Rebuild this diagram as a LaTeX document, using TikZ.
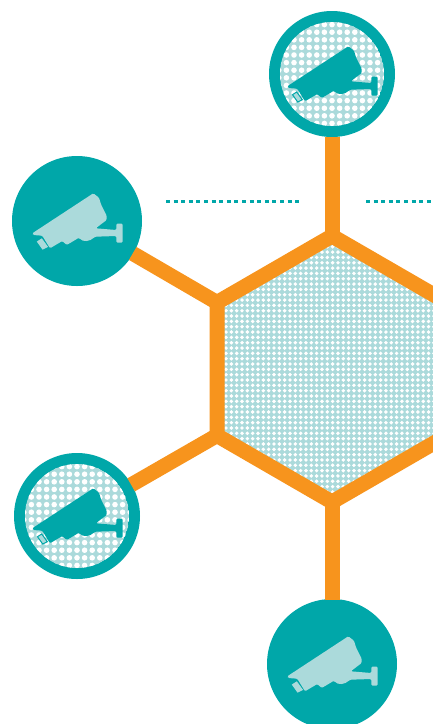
\documentclass[tikz,border=0pt]{standalone}
\usepackage{tikz}
\usetikzlibrary{positioning,calc}
\definecolor{tealc}{HTML}{00A7A9}
\definecolor{palec}{HTML}{ABDADB}
\definecolor{orangec}{HTML}{F7941D}
\tikzset{
    pics/camera/.style n args={2}{
      code={
        \fill[#1, rounded corners=1.2pt] (-44.7,12.3) -- (16.3,-27.7) -- (22,-23.3) -- (24,-16.7)
          -- (29.7,-5.3) -- (29.7,-1) -- (18.7,7.3) -- (39.3,9) -- (39.3,2.7) -- (45.7,2.7)
          -- (45.7,21.7) -- (39.3,21.7) -- (39.3,15) -- (18,15.7)
          .. controls (13,20.5) and (6,21.5) .. (2,16.7)
          -- (-10.3,24) -- (-14.7,20) -- (-27,27.3) -- (-34.7,14.7) -- (-43.7,14) -- cycle;
        \filldraw[fill=palec, draw=#2, line width=1pt] (-39.5,20.7) -- (-35.3,18) -- (-29.7,25.7) -- (-34.3,28) -- cycle;
      }
    },
}
\begin{document}
\begin{tikzpicture}[
  x=1pt, y=-1pt,
  camsolid/.style={circle, fill=tealc, inner sep=0pt, outer sep=0pt, minimum size=130pt},
  camring/.style={circle, fill=tealc, inner sep=0pt, outer sep=0pt, minimum size=126pt},
  link/.style={line width=15pt, color=orangec, shorten <=-0.5pt},
  rule/.style={line width=2.5pt, color=tealc, dash pattern=on 4pt off 3.6pt}
]
\clip (0,0) rectangle (433,724);

% Hexagon corners
\coordinate (hexT) at (332,236);
\coordinate (hexUL) at (217,302.5);
\coordinate (hexLL) at (217,435.5);
\coordinate (hexB) at (332,502);
\coordinate (hexLR) at (447,435.5);
\coordinate (hexUR) at (447,302.5);

% Ends of the dotted rules
\coordinate (ruleA) at (166,201.3);
\coordinate (ruleB) at (299,201.3);
\coordinate (ruleC) at (366,201.3);
\coordinate (ruleD) at (433,201.3);

% Hexagon
\begin{scope}
\clip (hexT) -- (hexUL) -- (hexLL) -- (hexB) -- (hexLR) -- (hexUR) -- cycle;
\fill[palec] (hexT) -- (hexUL) -- (hexLL) -- (hexB) -- (hexLR) -- (hexUR) -- cycle;
\foreach \i in {0,...,42}
  \foreach \j in {0,...,50}
    \fill[white] (220.7+\i*5.33,236.1+\j*5.33) circle (1.95);
\end{scope}
\draw[line width=15pt, color=orangec] (hexT) -- (hexUL) -- (hexLL) -- (hexB) -- (hexLR) -- (hexUR) -- cycle;

% Nodes
\node[camring] (camTop) at (332,74) {};
\node[camsolid] (camUpperLeft) at (77,221) {};
\node[camring] (camLowerLeft) at (77,516) {};
\node[camsolid] (camBottom) at (332,664) {};

% Dotted discs
\foreach \c in {camTop,camLowerLeft} {
  \begin{scope}
  \clip (\c) circle (52);
  \fill[palec] (\c) circle (52);
  \foreach \i in {-7,...,7}
    \foreach \j in {-8,...,7}
      \fill[white] ($(\c)+(\i*7.6,\j*7.6+3.8)$) circle (2.8);
  \end{scope}
}

% Links
\draw[link] (camTop) -- (hexT);
\draw[link] (camUpperLeft) -- (hexUL);
\draw[link] (camLowerLeft) -- (hexLL);
\draw[link] (camBottom) -- (hexB);

% Rules
\draw[rule] (ruleA) -- (ruleB);
\draw[rule] (ruleC) -- (ruleD);

% Cameras
\pic at (camTop) {camera={tealc}{tealc}};
\pic at (camUpperLeft) {camera={palec}{palec}};
\pic at (camLowerLeft) {camera={tealc}{tealc}};
\pic at (camBottom) {camera={palec}{palec}};
\end{tikzpicture}
\end{document}
